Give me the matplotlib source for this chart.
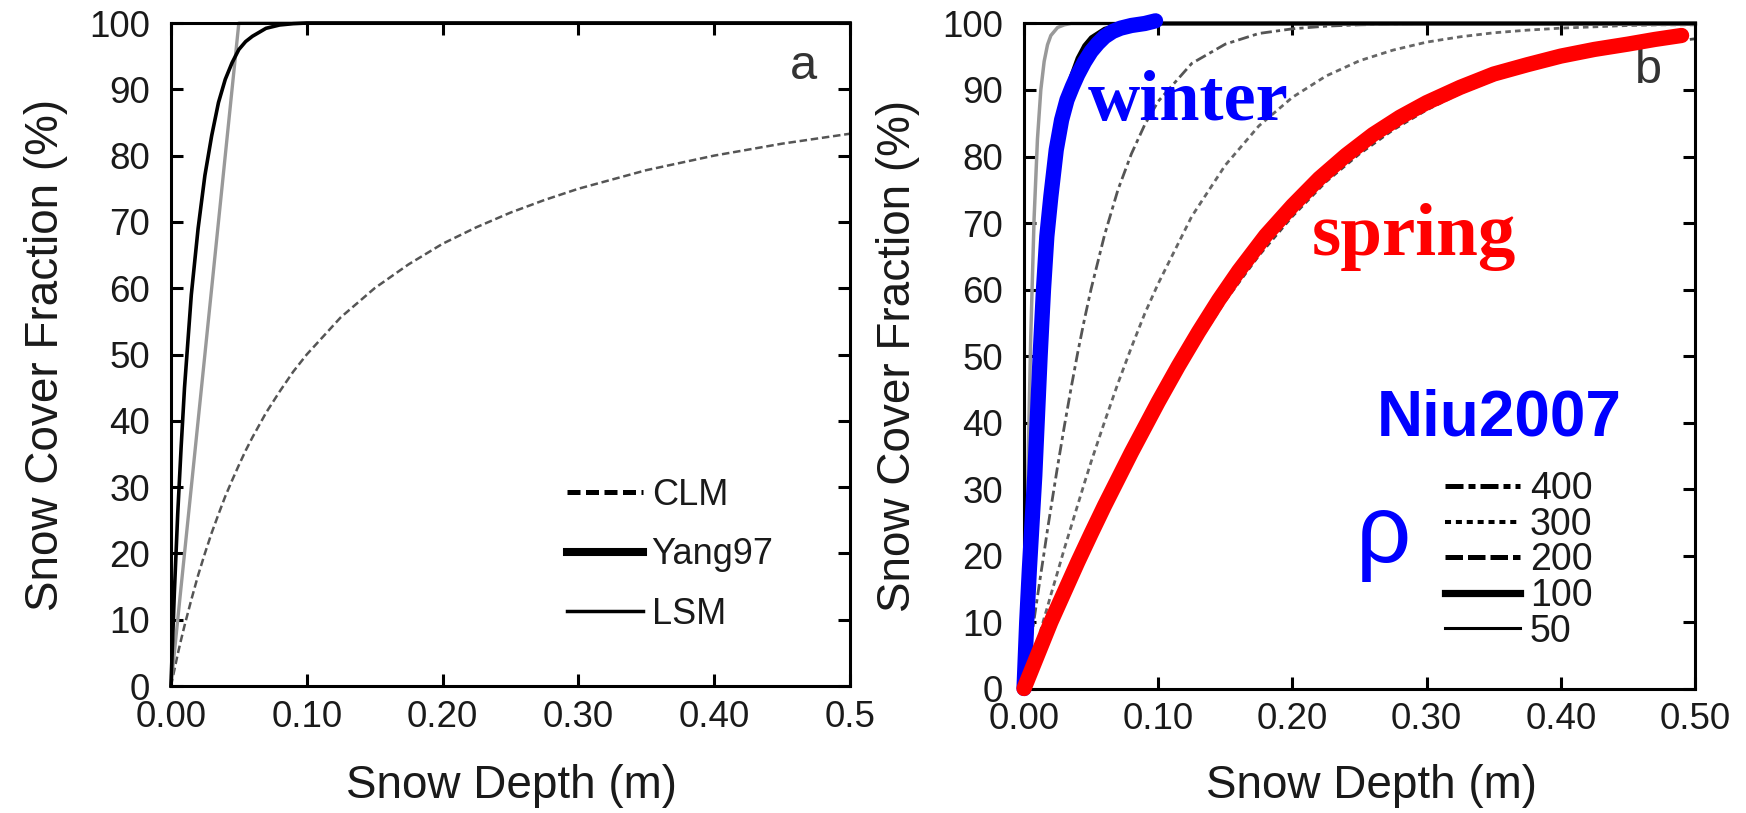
import matplotlib
matplotlib.use("Agg")
import matplotlib.pyplot as plt
from matplotlib.lines import Line2D

plt.rcParams['font.family'] = ['Liberation Sans', 'DejaVu Sans']

# ---- panel a: snow depth (m) vs snow cover fraction (%)
xa = [0, 0.0025, 0.005, 0.0075, 0.01, 0.015, 0.02, 0.025, 0.03, 0.035, 0.04,
      0.045, 0.05, 0.055, 0.06, 0.07, 0.08, 0.09, 0.1, 0.125, 0.15, 0.175,
      0.2, 0.225, 0.25, 0.275, 0.3, 0.35, 0.4, 0.45, 0.5]
clm = [0, 2.4, 4.8, 7.0, 9.1, 13.0, 16.7, 20.0, 23.1, 25.9, 28.6,
       31.0, 33.3, 35.5, 37.5, 41.2, 44.4, 47.4, 50.0, 55.6, 60.0, 63.6,
       66.7, 69.2, 71.4, 73.3, 75.0, 77.8, 80.0, 81.8, 83.3]
yang97 = [0, 14, 26, 36, 45, 59, 69, 77, 83, 88, 91.5,
          94, 96, 97.2, 98, 99.2, 99.7, 99.9, 100, 100, 100, 100,
          100, 100, 100, 100, 100, 100, 100, 100, 100]
lsm = [0, 5, 10, 15, 20, 30, 40, 50, 60, 70, 80,
       90, 100, 100, 100, 100, 100, 100, 100, 100, 100, 100,
       100, 100, 100, 100, 100, 100, 100, 100, 100]

# ---- panel b: Niu2007 for several snow densities
xb = [0, 0.0025, 0.005, 0.0075, 0.01, 0.0125, 0.015, 0.0175, 0.02, 0.025, 0.03,
      0.035, 0.04, 0.045, 0.05, 0.06, 0.07, 0.08, 0.09, 0.1, 0.125, 0.15, 0.175,
      0.2, 0.225, 0.25, 0.275, 0.3, 0.325, 0.35, 0.375, 0.4, 0.425, 0.45, 0.475, 0.5]
rho50 = [0, 28.6, 52.9, 70.7, 82.6, 90.0, 94.3, 96.8, 98.2, 99.4, 99.8,
         100, 100, 100, 100, 100, 100, 100, 100, 100, 100, 100, 100,
         100, 100, 100, 100, 100, 100, 100, 100, 100, 100, 100, 100, 100]
rho100 = [0, 11.3, 22.3, 32.8, 42.6, 51.4, 59.3, 66.1, 72.1, 81.3, 87.8,
          92.0, 94.8, 96.7, 97.9, 99.2, 99.7, 99.9, 100, 100, 100, 100, 100,
          100, 100, 100, 100, 100, 100, 100, 100, 100, 100, 100, 100, 100]
rho200 = [0, 3.5, 6.9, 10.4, 13.8, 17.2, 20.5, 23.9, 27.1, 33.4, 39.4,
          45.1, 50.5, 55.5, 60.1, 68.2, 75.0, 80.4, 84.8, 88.3, 94.0, 96.9, 98.5,
          99.2, 99.6, 99.8, 99.9, 100, 100, 100, 100, 100, 100, 100, 100, 100]
rho300 = [0, 1.8, 3.5, 5.3, 7.1, 8.8, 10.6, 12.3, 14.1, 17.5, 21.0,
          24.3, 27.6, 30.9, 34.1, 40.1, 45.9, 51.3, 56.4, 60.9, 71.0, 78.7, 84.6,
          88.9, 92.1, 94.4, 96.0, 97.2, 98.0, 98.6, 99.0, 99.3, 99.5, 99.7, 99.8, 99.8]
rho400 = [0, 1.1, 2.2, 3.3, 4.4, 5.6, 6.7, 7.8, 8.9, 11.1, 13.3,
          15.4, 17.6, 19.7, 21.9, 26.1, 30.2, 34.1, 38.0, 41.7, 50.5, 58.3, 65.1,
          71.0, 76.2, 80.4, 84.0, 87.0, 89.5, 91.5, 93.1, 94.5, 95.5, 96.4, 97.1, 97.7]

x_winter = [0, 0.002, 0.004, 0.006, 0.008, 0.01, 0.012, 0.0145, 0.017, 0.02,
            0.024, 0.028, 0.032, 0.036, 0.04, 0.045, 0.05, 0.055, 0.06, 0.066,
            0.072, 0.08, 0.09, 0.098]
winter = [0, 10, 18, 25, 32, 41, 50, 60, 68, 74,
          81, 85.5, 88.5, 90.5, 92.3, 94.2, 95.8, 97, 98, 98.8,
          99.3, 99.7, 100, 100.4]

x_spring = [0, 0.01, 0.02, 0.03, 0.04, 0.05, 0.06, 0.07, 0.08, 0.09, 0.1,
            0.115, 0.13, 0.145, 0.16, 0.18, 0.2, 0.22, 0.24, 0.26, 0.28, 0.3,
            0.325, 0.35, 0.375, 0.4, 0.425, 0.45, 0.47, 0.49]
spring = [0, 5.0, 10, 14.5, 19, 23.3, 27.5, 31.5, 35.5, 39.3, 43.1,
          48.5, 53.6, 58.4, 62.8, 68.1, 72.6, 76.7, 80.2, 83.3, 85.9, 88.1,
          90.4, 92.4, 93.8, 95.1, 96.1, 96.9, 97.6, 98.2]

rho_labels = ['400', '300', '200', '100', '50']

fig = plt.figure(figsize=(17.46, 8.13), dpi=100)
ax1 = fig.add_axes([0.0979, 0.1562, 0.3889, 0.8155])
ax2 = fig.add_axes([0.5865, 0.1531, 0.3843, 0.8180])

tick_col = '#1a1a1a'
for ax in (ax1, ax2):
    ax.set_xlim(0, 0.5)
    ax.set_ylim(0, 100)
    ax.set_yticks(range(0, 101, 10))
    ax.tick_params(direction='in', length=8.6, width=2.2, top=True, right=True,
                   labelsize=26.5, colors='black', labelcolor=tick_col)
    ax.tick_params(axis='y', pad=15)
    ax.tick_params(axis='x', pad=10)
    for s in ax.spines.values():
        s.set_linewidth(2.2)
    ax.set_xlabel('Snow Depth (m)', fontsize=33, color=tick_col)
    ax.set_ylabel('Snow Cover Fraction (%)', fontsize=33, color=tick_col)

ax1.set_xticks([0, 0.1, 0.2, 0.3, 0.4, 0.5])
ax1.set_xticklabels(['0.00', '0.10', '0.20', '0.30', '0.40', '0.5'])
ax2.set_xticks([0, 0.1, 0.2, 0.3, 0.4, 0.5])
ax2.set_xticklabels(['0.00', '0.10', '0.20', '0.30', '0.40', '0.50'])

ax1.yaxis.set_label_coords(-0.152, 0.5)
ax1.xaxis.set_label_coords(0.502, -0.118)
ax2.yaxis.set_label_coords(-0.155, 0.5)
ax2.xaxis.set_label_coords(0.518, -0.114)

# panel a curves
ax1.plot(xa, clm, color='#555555', lw=1.8, dashes=(3, 1.5), clip_on=False)
ax1.plot(xa, lsm, color='#999999', lw=2.4, clip_on=False)
ax1.plot(xa, yang97, color='black', lw=2.6, clip_on=False)

h_a = [Line2D([], [], color='black', lw=3.6, dashes=(2.6, 1.1)),
       Line2D([], [], color='black', lw=5.8),
       Line2D([], [], color='black', lw=2.5)]
ax1.legend(h_a, ['CLM', 'Yang97', 'LSM'], loc='upper left',
           bbox_to_anchor=(0.583, 0.314), frameon=False, fontsize=26,
           handlelength=2.1, handletextpad=0.25, labelspacing=0.68,
           borderpad=0, borderaxespad=0, labelcolor=tick_col)
ax1.text(0.932, 0.935, 'a', transform=ax1.transAxes, fontsize=35,
         ha='center', va='center', color='#333333')

# panel b curves
ax2.plot(xb, rho50, color='#999999', lw=2.5, clip_on=False)
ax2.plot(xb, rho100, color='black', lw=3, clip_on=False)
ax2.plot(xb, rho200, color='#555555', lw=2, dashes=(4, 1.5, 1.5, 1.5), clip_on=False)
ax2.plot(xb, rho300, color='#666666', lw=2, dashes=(2, 1.5), clip_on=False)
ax2.plot(xb, rho400, color='#444444', lw=2, dashes=(2, 1.5), clip_on=False)
ax2.plot(x_winter, winter, color='#0000ff', lw=11, solid_capstyle='round',
         solid_joinstyle='round', clip_on=False, zorder=4)
ax2.plot(x_spring, spring, color='#ff0000', lw=11, solid_capstyle='round',
         solid_joinstyle='round', clip_on=False, zorder=4)

h_b = [Line2D([], [], color='black', lw=3.6, dashes=(3.6, 1, 1.4, 1)),
       Line2D([], [], color='black', lw=2.9, dashes=(1.5, 1.2)),
       Line2D([], [], color='black', lw=3.6, dashes=(3.5, 1)),
       Line2D([], [], color='black', lw=5.2),
       Line2D([], [], color='black', lw=2.2)]
ax2.legend(h_b, rho_labels, loc='upper left', bbox_to_anchor=(0.627, 0.327),
           frameon=False, fontsize=27, handlelength=2.0, handletextpad=0.27,
           labelspacing=-0.01, borderpad=0, borderaxespad=0, labelcolor=tick_col)

ax2.text(0.930, 0.929, 'b', transform=ax2.transAxes, fontsize=35,
         ha='center', va='center', color='#333333')
ax2.text(0.095, 0.855, 'winter', transform=ax2.transAxes, fontsize=52,
         fontweight='bold', family='Liberation Serif', color='#0000ff',
         ha='left', va='baseline', zorder=5)
ax2.text(0.429, 0.652, 'spring', transform=ax2.transAxes, fontsize=54,
         fontweight='bold', family='Liberation Serif', color='#ff0000',
         ha='left', va='baseline', zorder=5)
ax2.text(0.525, 0.381, 'Niu2007', transform=ax2.transAxes, fontsize=46,
         fontweight='bold', color='#0000ff', ha='left', va='baseline')
ax2.text(0.495, 0.19, 'ρ', transform=ax2.transAxes, fontsize=70,
         color='#0000ff', ha='left', va='baseline')

fig.savefig('out.png', dpi=100)
